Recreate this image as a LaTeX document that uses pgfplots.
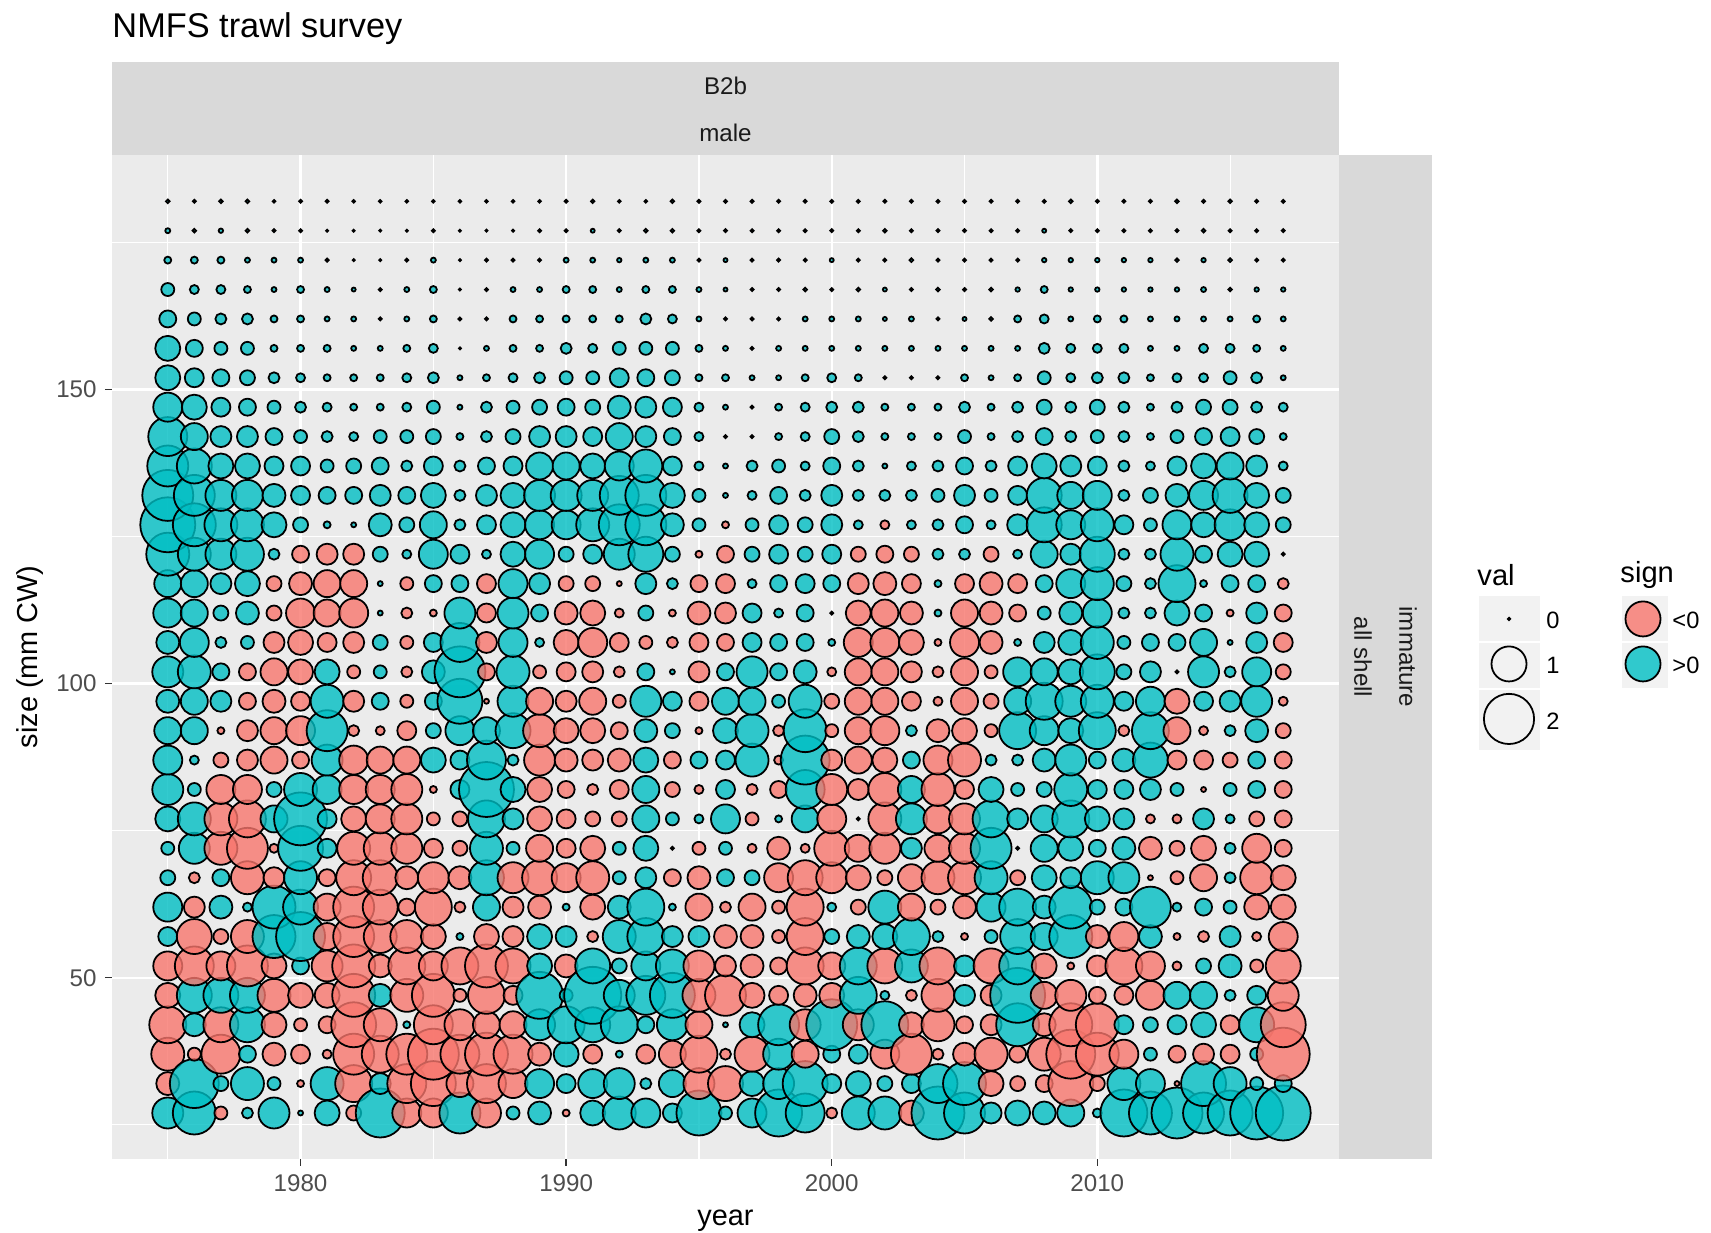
\documentclass[border=0pt]{standalone}
\usepackage{pgfplots}
\usepackage{pgfplotstable}
\usepackage{fontspec}
\setmainfont{Liberation Sans}
\pgfplotsset{compat=1.18}
\definecolor{negc}{HTML}{F8766D}
\definecolor{posc}{HTML}{00BFC4}
\definecolor{panelc}{HTML}{EBEBEB}
\definecolor{stripc}{HTML}{D9D9D9}
\definecolor{keyc}{HTML}{F2F2F2}
\definecolor{txtc}{HTML}{4D4D4D}
\definecolor{stript}{HTML}{1A1A1A}
\definecolor{tickc}{HTML}{333333}
% radius of each bubble in reference pixels; negative = sign <0
\pgfplotstableread{
s 1975 1976 1977 1978 1979 1980 1981 1982 1983 1984 1985 1986 1987 1988 1989 1990 1991 1992 1993 1994 1995 1996 1997 1998 1999 2000 2001 2002 2003 2004 2005 2006 2007 2008 2009 2010 2011 2012 2013 2014 2015 2016 2017
27 16 22 -7 6 16 3 13 -8 25 -15 -15 21 -15 7 12 -4 13 17 15 10 23 7 15 24 20 -6 17 17 -13 27 21 11 13 12 14 5 24 22 26 21 23 27 28
32 -12 25 8 17 7 -4 17 -19 11 -20 -23 -14 -20 -15 15 10 15 16 6 14 -16 -18 13 16 23 10 13 8 10 20 22 -13 -8 -9 -23 -8 17 15 -3 23 17 7 9
37 -17 -7 -20 9 -12 -10 -5 -21 -19 -21 -26 -20 -22 -20 -12 13 -10 4 -10 -14 -19 -6 -18 16 -14 9 10 -15 -21 -6 -12 -17 -9 -17 -25 -22 -15 7 -9 -11 -10 7 -27
42 -19 12 -18 18 -13 -7 -9 -23 -17 4 -20 -16 -14 -14 16 19 18 19 9 16 -14 3 13 21 -16 26 -16 24 -13 -17 -9 -11 22 -12 -22 -22 10 8 10 13 -10 18 -23
47 -13 18 18 18 -17 -13 -13 -22 12 -17 -22 -7 -19 -10 24 7 29 16 20 23 -17 -21 -13 -10 -12 -13 19 5 -6 -17 11 -11 28 -14 -16 -9 -10 -15 14 14 6 10 -16
52 -15 -20 -15 -21 -13 9 -16 -22 -12 -19 -15 -19 -22 -18 13 -12 18 8 15 17 -16 -11 -12 -9 -19 -14 19 -18 17 -19 11 -18 19 -13 -4 -11 -19 -15 -5 8 12 -7 -18
57 10 -18 -8 -17 22 25 -14 -21 -17 -17 -13 4 -13 -11 13 11 -6 17 19 11 11 -12 -12 -7 -19 8 12 13 19 6 -4 7 18 14 22 -12 -15 12 -4 -6 11 -5 -15
62 15 -11 12 5 22 18 -14 -21 -18 -9 -19 -6 14 -11 -12 4 -13 12 19 4 -14 -6 -14 -7 -19 5 -8 17 -14 -8 -12 15 19 12 22 8 9 21 5 9 7 -13 -13
67 8 -6 9 -17 -11 17 -9 -18 -18 -12 -16 -12 18 -16 -18 -15 -17 7 11 -9 -12 9 8 -15 -18 -16 -13 -8 -14 -17 -17 17 -8 13 11 17 16 -3 -7 -14 6 -17 -13
72 7 16 -17 -21 -5 23 10 -17 -17 -16 -10 -8 17 7 -14 -10 -13 7 13 2 -7 7 -5 -12 -5 -18 -14 -16 11 -14 -16 21 2 14 13 9 12 -12 -8 -13 6 -15 -9
77 13 17 -17 -19 14 27 10 -13 -15 -16 -7 -8 19 11 -13 -10 -8 -8 14 7 5 15 -7 4 14 -15 2 -17 16 -15 -16 19 11 14 19 13 11 -5 -5 11 5 -8 -9
82 16 7 -15 -15 8 17 15 -15 -15 -16 -4 10 28 13 -13 -9 -6 -10 14 -8 -5 10 -6 -9 20 -16 -11 -17 14 -17 -10 13 7 8 17 10 10 11 7 -3 7 9 -9
87 15 5 -8 -11 -14 -9 16 -15 -14 -14 13 10 20 6 -16 -12 -11 -12 13 -9 9 10 17 -5 25 -11 -14 -13 9 -15 -17 6 6 12 16 9 12 18 -10 -10 -8 9 -9
92 14 14 -4 -11 -14 -15 21 -6 -5 -10 8 15 14 18 -17 -13 -13 -9 12 8 -4 13 17 -6 22 -7 -14 -15 6 -12 -13 -7 19 15 13 19 -6 19 -14 -5 6 12 -8
97 12 14 11 -9 -12 -10 17 -11 9 -7 9 23 -3 16 -14 -11 -14 -7 16 10 -10 14 14 7 17 -8 -14 -14 -10 -5 -14 -8 14 19 16 17 10 15 -13 10 11 16 -5
102 16 17 9 -9 -14 -13 13 -7 7 -6 12 26 -9 17 -7 -10 -11 -6 9 3 -11 9 16 9 12 -5 -14 -14 -11 -6 -14 -7 15 14 13 18 8 11 2 16 6 15 -8
107 12 15 6 7 -11 -13 -10 -11 8 -7 10 20 -11 15 5 -13 -15 -10 -7 -6 -10 -9 10 9 9 4 -15 -15 -13 -4 -15 -12 4 11 13 17 7 9 9 14 3 11 -10
112 15 14 8 12 -8 -15 -14 -15 3 -6 -4 16 -10 16 9 -12 -13 -5 8 -4 -12 -11 10 5 9 2 -13 -14 -12 4 -14 -12 -9 7 12 15 6 6 13 9 -4 11 -9
117 14 14 11 13 -8 -12 -14 -14 3 -7 9 9 -10 15 11 -8 -8 -3 11 6 -9 -10 5 9 10 9 -11 -12 -10 4 -10 -12 -10 9 15 17 8 6 19 4 9 9 -6
122 22 17 16 17 6 -9 -11 -11 8 5 15 10 5 13 15 8 10 16 18 8 -4 -9 8 10 8 10 -8 -9 -8 6 6 -8 5 14 11 18 6 6 17 9 13 13 2
127 28 22 17 17 13 8 4 3 12 8 14 6 10 13 15 15 17 21 21 12 7 -4 7 10 8 11 5 -5 5 6 9 5 11 18 15 17 10 7 15 13 16 13 8
132 26 21 16 16 12 10 9 9 11 9 13 6 11 13 16 16 16 20 21 13 7 3 5 9 6 11 6 6 6 7 11 7 10 18 14 15 6 8 12 15 18 13 8
137 21 18 13 13 10 10 7 8 9 6 10 6 9 10 14 14 13 15 17 10 5 3 6 7 5 9 6 3 5 6 9 6 10 13 11 10 6 5 10 13 14 11 5
142 20 14 11 11 9 7 6 5 7 7 8 4 6 8 11 11 10 14 11 9 5 2 2 4 5 8 6 4 4 4 7 4 6 9 6 7 6 4 7 9 10 8 4
147 15 13 10 9 7 6 5 4 4 5 7 3 6 7 8 9 8 12 11 10 5 3 2 4 5 6 6 4 4 4 6 4 6 8 6 8 6 4 6 8 8 6 5
152 13 10 9 8 6 5 4 4 4 5 6 3 4 5 6 7 7 10 9 8 4 4 3 3 4 5 4 2 2 2 4 3 4 7 5 6 6 4 5 5 7 6 3
157 13 9 7 7 4 4 4 3 3 4 5 1.5 3 4 4 6 5 7 7 7 4 3 2 3 3 3 3 3 3 3 3 3 3 6 5 5 5 3 3 5 5 4 3
162 9 7 6 6 4 4 3 3 2 3 4 2 2 4 4 4 4 4 6 5 3 2 2 2 3 3 3 2.5 3 2 2.5 2.3 4 5 3 4 4 3 3 3 3 4 3
167 7 5 5 4 3 4 3 2.5 2 3 4 1.5 2 3 3 4 4 3 4 4 3 2.5 2 2 2.3 2 2.3 2.5 2 2.3 2 2.3 2.7 4 2.7 2.7 2.7 2.7 2.7 3 2.3 2.7 2.7
172 4 4 4 3 3 3 2 1.5 1.5 2 3 1.5 2 2 2 3 3 2.7 3 3 2 2.5 2 2 2 2.5 2 2 2.3 2 2 2 2 2.7 2.7 2.7 2.7 2.7 2.3 2.7 2.3 2 2
177 3 2.3 2.7 2.3 2 2 1.5 1.5 1.5 1.5 2 1.5 1.5 1.5 2 2 2.5 2 2.3 2.3 2 2 2 2 2 2 2 2.3 2 2 2 2 2 2.5 2 2 2 2 2 2.3 2 2 2
182 2.3 2 2.3 2.3 1.8 2 2 1.8 1.8 1.8 1.8 1.8 1.8 1.8 1.8 2 2.2 1.8 1.8 2.3 2 2 2 2 2 2 2 2 2 2 2 2 2 2 2.3 2 2 2 2.3 2 2.3 2 2
}\datatable
\begin{document}
\begin{tikzpicture}
\path[use as bounding box] (0,0) rectangle (722.9pt,520.9pt);
\begin{axis}[
  at={(47.32pt,31.27pt)},anchor=south west,
  scale only axis,width=518.4pt,height=424.2pt,
  xmin=1972.9,xmax=2019.1,ymin=19.2,ymax=189.9,
  axis background/.style={fill=panelc},
  axis line style={draw=none},
  xtick={1980,1990,2000,2010},ytick={50,100,150},
  minor xtick={1975,1985,1995,2005,2015},
  minor ytick={25,75,125,175},
  grid=both,
  major grid style={white,line width=1.0pt},
  minor grid style={white,line width=0.5pt},
  tick align=outside,xtick pos=bottom,ytick pos=left,
  major tick length=3pt,minor tick length=0pt,
  tick style={tickc,line width=0.55pt},
  /pgf/number format/1000 sep={},
  /pgf/number format/assume math mode=true,
  tick label style={text=txtc,font=\fontsize{10.2pt}{11pt}\selectfont},
  xlabel={year},ylabel={size (mm CW)},
  label style={font=\fontsize{12.2pt}{14pt}\selectfont,text=black},
  xlabel style={at={(axis description cs:0.5,-0.0615)},anchor=center},
  ylabel style={at={(axis description cs:-0.0672,0.5)},anchor=center},
  clip=false,
  axis on top=false,
]
\pgfplotsinvokeforeach{1975,...,2017}{
  \addplot[scatter,only marks,mark=*,forget plot,
    scatter src=y,
    visualization depends on={\thisrow{#1}\as\cellv},
    scatter/@pre marker code/.code={%
      \pgfmathsetmacro\cellr{max(abs(\cellv)-0.5,0.9)*0.4225}%
      \ifdim\cellv pt<0pt \def\cellc{negc}\else\def\cellc{posc}\fi
      \scope[mark size=\cellr pt,draw=black,fill=\cellc,fill opacity=0.8,draw opacity=1,line width=0.75pt]%
    },
    scatter/@post marker code/.code={\endscope},
  ] table[x expr=#1,y=s] {\datatable};
}
\end{axis}
\begin{axis}[
  at={(0pt,0pt)},anchor=south west,
  scale only axis,width=722.9pt,height=520.9pt,
  xmin=0,xmax=1711,ymin=0,ymax=1233,y dir=reverse,
  hide axis,clip=false,
]
\fill[stripc] (axis cs:112,62) rectangle (axis cs:1339,155);
\fill[stripc] (axis cs:1339,155) rectangle (axis cs:1432,1159);
\fill[keyc] (axis cs:1479,596) rectangle (axis cs:1540,641);
\fill[keyc] (axis cs:1479,643) rectangle (axis cs:1540,688);
\fill[keyc] (axis cs:1479,690) rectangle (axis cs:1540,750);
\fill[keyc] (axis cs:1622,596) rectangle (axis cs:1668,641);
\fill[keyc] (axis cs:1622,643) rectangle (axis cs:1668,688);
\addplot[only marks,mark=o,mark size=0.5pt,mark options={black,line width=0.75pt},forget plot] coordinates {(1509,619)};
\addplot[only marks,mark=o,mark size=7.4pt,mark options={black,line width=0.75pt},forget plot] coordinates {(1509,664)};
\addplot[only marks,mark=o,mark size=10.6pt,mark options={black,line width=0.75pt},forget plot] coordinates {(1509,719)};
\addplot[only marks,mark=*,mark size=7.4pt,mark options={draw=black,fill=negc,fill opacity=0.8,line width=0.75pt},forget plot] coordinates {(1643,619)};
\addplot[only marks,mark=*,mark size=7.4pt,mark options={draw=black,fill=posc,fill opacity=0.8,line width=0.75pt},forget plot] coordinates {(1643,664)};
\node[anchor=base west,inner sep=0pt,font=\fontsize{14.5pt}{16pt}\selectfont] at (axis cs:112,38) {NMFS trawl survey};
\node[anchor=center,text=stript,font=\fontsize{10.2pt}{11pt}\selectfont] at (axis cs:725.5,86) {B2b};
\node[anchor=center,text=stript,font=\fontsize{10.2pt}{11pt}\selectfont] at (axis cs:725.5,133) {male};
\node[anchor=center,rotate=-90,text=stript,font=\fontsize{10.2pt}{11pt}\selectfont] at (axis cs:1408,657) {immature};
\node[anchor=center,rotate=-90,text=stript,font=\fontsize{10.2pt}{11pt}\selectfont] at (axis cs:1363,657) {all shell};
\node[anchor=west,inner sep=0pt,font=\fontsize{12.3pt}{14pt}\selectfont] at (axis cs:1477,575) {val};
\node[anchor=west,inner sep=0pt,font=\fontsize{12.3pt}{14pt}\selectfont] at (axis cs:1620,575) {sign};
\node[anchor=west,inner sep=0pt,font=\fontsize{10pt}{11pt}\selectfont] at (axis cs:1546,620) {0};
\node[anchor=west,inner sep=0pt,font=\fontsize{10pt}{11pt}\selectfont] at (axis cs:1546,665) {1};
\node[anchor=west,inner sep=0pt,font=\fontsize{10pt}{11pt}\selectfont] at (axis cs:1546,721) {2};
\node[anchor=west,inner sep=0pt,font=\fontsize{10pt}{11pt}\selectfont] at (axis cs:1672,620) {<0};
\node[anchor=west,inner sep=0pt,font=\fontsize{10pt}{11pt}\selectfont] at (axis cs:1672,665) {>0};
\end{axis}
\end{tikzpicture}
\end{document}
